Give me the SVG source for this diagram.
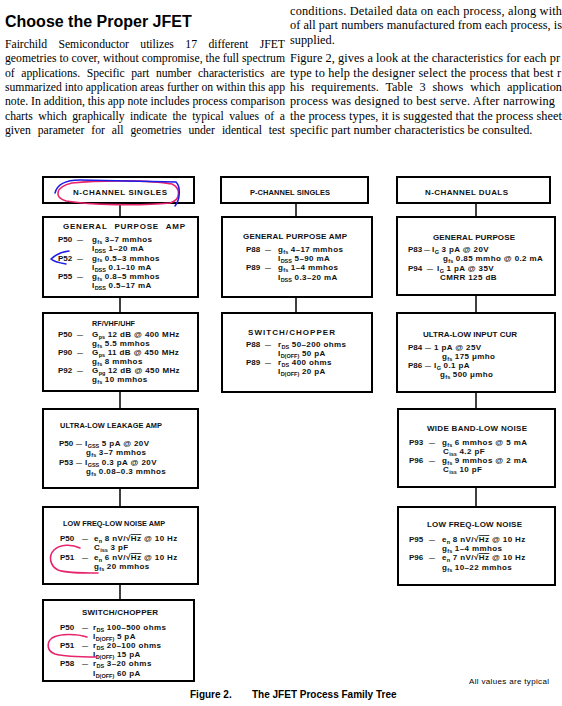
<svg xmlns="http://www.w3.org/2000/svg" width="562" height="706" viewBox="0 0 562 706">
<style>
.hd{font-family:"Liberation Sans",Arial,sans-serif;font-weight:bold;font-size:16px;fill:#000}
.bd{font-family:"Liberation Serif","Times New Roman",serif;font-size:11.7px;fill:#000}
.bd2{font-family:"Liberation Serif","Times New Roman",serif;font-size:12.3px;fill:#000}
.box{fill:#fff;stroke:#000;stroke-width:2}
.ttl{font-family:"Liberation Sans",Arial,sans-serif;font-weight:bold;font-size:8px;fill:#111}
.tx{font-family:"Liberation Sans",Arial,sans-serif;font-weight:bold;font-size:8px;letter-spacing:0.4px;fill:#111}
.lb{letter-spacing:0}
.dh{font-size:6px;letter-spacing:0}
.sb{font-size:5.5px;letter-spacing:0}
.ov{text-decoration:overline}
.conn line{stroke:#000;stroke-width:1.5}
.pink{fill:none;stroke:#e8246c;stroke-width:1.6;stroke-linecap:round;stroke-linejoin:round}
.blue{fill:none;stroke:#1c1ce6;stroke-width:1.5;stroke-linecap:round}
.cap{font-family:"Liberation Sans",Arial,sans-serif;font-weight:bold;font-size:10px;fill:#000}
.note{font-family:"Liberation Sans",Arial,sans-serif;font-size:8px;fill:#000}
</style>

<g id="page-text">
<text class="hd" x="5" y="27">Choose the Proper JFET</text>
<text class="bd" x="5" y="48" textLength="280" lengthAdjust="spacing" word-spacing="8.6">Fairchild Semiconductor utilizes 17 different JFET</text>
<text class="bd" x="5" y="62.3" textLength="280" lengthAdjust="spacing">geometries to cover, without compromise, the full spectrum</text>
<text class="bd" x="5" y="76.6" textLength="280" lengthAdjust="spacing" word-spacing="3.7">of applications. Specific part number characteristics are</text>
<text class="bd" x="5" y="90.9" textLength="280" lengthAdjust="spacing">summarized into application areas further on within this app</text>
<text class="bd" x="5" y="105.2" textLength="280" lengthAdjust="spacing">note. In addition, this app note includes process comparison</text>
<text class="bd" x="5" y="119.5" textLength="280" lengthAdjust="spacing" word-spacing="2.7">charts which graphically indicate the typical values of a</text>
<text class="bd" x="5" y="133.8" textLength="280" lengthAdjust="spacing" word-spacing="4.1">given parameter for all geometries under identical test</text>

<text class="bd2" x="290" y="15" textLength="272" lengthAdjust="spacing">conditions. Detailed data on each process, along with</text>
<text class="bd2" x="290" y="29.3" textLength="272" lengthAdjust="spacing">of all part numbers manufactured from each process, is</text>
<text class="bd2" x="290" y="43.6">supplied.</text>
<text class="bd2" x="290" y="62.3" textLength="270" lengthAdjust="spacing">Figure 2, gives a look at the characteristics for each pr</text>
<text class="bd2" x="290" y="76.6" textLength="271" lengthAdjust="spacing">type to help the designer select the process that best r</text>
<text class="bd2" x="290" y="90.9" textLength="272" lengthAdjust="spacing" word-spacing="3.7">his requirements. Table 3 shows which application</text>
<text class="bd2" x="290" y="105.2" textLength="265" lengthAdjust="spacing">process was designed to best serve. After narrowing</text>
<text class="bd2" x="290" y="119.5" textLength="272" lengthAdjust="spacing">the process types, it is suggested that the process sheet</text>
<text class="bd2" x="290" y="133.8">specific part number characteristics be consulted.</text>
</g>

<g id="connectors" class="conn">
<line x1="120" y1="203" x2="120" y2="217"/>
<line x1="120" y1="297" x2="120" y2="313"/>
<line x1="120" y1="391" x2="120" y2="409"/>
<line x1="120" y1="488" x2="120" y2="507"/>
<line x1="120" y1="584" x2="120" y2="600"/>
<line x1="296" y1="203" x2="296" y2="217"/>
<line x1="296" y1="297" x2="296" y2="313"/>
<line x1="476" y1="203" x2="476" y2="217"/>
<line x1="476" y1="295" x2="476" y2="313"/>
<line x1="476" y1="392" x2="476" y2="409"/>
<line x1="476" y1="487" x2="476" y2="507"/>
</g>

<g id="n-channel-singles">
<rect class="box" x="43" y="177" width="151" height="26"/>
<text class="ttl" x="73" y="194.5" textLength="94" lengthAdjust="spacing">N-CHANNEL SINGLES</text>
</g>

<g id="n-gp-amp">
<rect class="box" x="43" y="217" width="155" height="80"/>
<text class="ttl" x="63" y="228.5" textLength="122" lengthAdjust="spacing" word-spacing="4">GENERAL PURPOSE AMP</text>
<text class="tx" y="242"><tspan class="lb" x="58">P50</tspan><tspan class="dh" x="77">—</tspan><tspan x="92">g</tspan><tspan class="sb" dy="1.5">fs</tspan><tspan dy="-1.5"> 3–7 mmhos</tspan></text>
<text class="tx" x="92" y="251">I<tspan class="sb" dy="1.5">DSS</tspan><tspan dy="-1.5"> 1–20 mA</tspan></text>
<text class="tx" y="260.5"><tspan class="lb" x="58">P52</tspan><tspan class="dh" x="77">—</tspan><tspan x="92">g</tspan><tspan class="sb" dy="1.5">fs</tspan><tspan dy="-1.5"> 0.5–3 mmhos</tspan></text>
<text class="tx" x="92" y="270">I<tspan class="sb" dy="1.5">DSS</tspan><tspan dy="-1.5"> 0.1–10 mA</tspan></text>
<text class="tx" y="279"><tspan class="lb" x="58">P55</tspan><tspan class="dh" x="77">—</tspan><tspan x="92">g</tspan><tspan class="sb" dy="1.5">fs</tspan><tspan dy="-1.5"> 0.8–5 mmhos</tspan></text>
<text class="tx" x="92" y="288">I<tspan class="sb" dy="1.5">DSS</tspan><tspan dy="-1.5"> 0.5–17 mA</tspan></text>
</g>

<g id="n-rf">
<rect class="box" x="43" y="313" width="155" height="78"/>
<text class="ttl" x="92" y="325.5" style="font-size:7.2px" textLength="43" lengthAdjust="spacing">RF/VHF/UHF</text>
<text class="tx" y="337"><tspan class="lb" x="58">P50</tspan><tspan class="dh" x="77">—</tspan><tspan x="92">G</tspan><tspan class="sb" dy="1.5">ps</tspan><tspan dy="-1.5"> 12 dB @ 400 MHz</tspan></text>
<text class="tx" x="92" y="346">g<tspan class="sb" dy="1.5">fs</tspan><tspan dy="-1.5"> 5.5 mmhos</tspan></text>
<text class="tx" y="355"><tspan class="lb" x="58">P90</tspan><tspan class="dh" x="77">—</tspan><tspan x="92">G</tspan><tspan class="sb" dy="1.5">ps</tspan><tspan dy="-1.5"> 11 dB @ 450 MHz</tspan></text>
<text class="tx" x="92" y="364">g<tspan class="sb" dy="1.5">fs</tspan><tspan dy="-1.5"> 8 mmhos</tspan></text>
<text class="tx" y="373"><tspan class="lb" x="58">P92</tspan><tspan class="dh" x="77">—</tspan><tspan x="92">G</tspan><tspan class="sb" dy="1.5">pg</tspan><tspan dy="-1.5"> 12 dB @ 450 MHz</tspan></text>
<text class="tx" x="92" y="382">g<tspan class="sb" dy="1.5">fs</tspan><tspan dy="-1.5"> 10 mmhos</tspan></text>
</g>

<g id="n-leakage">
<rect class="box" x="43" y="409" width="155" height="79"/>
<text class="ttl" x="60" y="427.5" style="font-size:7.4px" textLength="102" lengthAdjust="spacing">ULTRA-LOW LEAKAGE AMP</text>
<text class="tx" y="446"><tspan class="lb" x="59">P50</tspan><tspan class="dh" x="76">—</tspan><tspan x="85">I</tspan><tspan class="sb" dy="1.5">GSS</tspan><tspan dy="-1.5"> 5 pA @ 20V</tspan></text>
<text class="tx" x="86" y="455">g<tspan class="sb" dy="1.5">fs</tspan><tspan dy="-1.5"> 3–7 mmhos</tspan></text>
<text class="tx" y="465"><tspan class="lb" x="59">P53</tspan><tspan class="dh" x="76">—</tspan><tspan x="85">I</tspan><tspan class="sb" dy="1.5">GSS</tspan><tspan dy="-1.5"> 0.3 pA @ 20V</tspan></text>
<text class="tx" x="86" y="474">g<tspan class="sb" dy="1.5">fs</tspan><tspan dy="-1.5"> 0.08–0.3 mmhos</tspan></text>
</g>

<g id="n-lf-noise">
<rect class="box" x="43" y="507" width="155" height="77"/>
<text class="ttl" x="63" y="525.5" style="font-size:7.3px" textLength="102" lengthAdjust="spacing">LOW FREQ-LOW NOISE AMP</text>
<text class="tx" y="541"><tspan class="lb" x="60">P50</tspan><tspan class="dh" x="82">—</tspan><tspan x="94">e</tspan><tspan class="sb" dy="1.5">n</tspan><tspan dy="-1.5"> 8 nV/√</tspan><tspan class="ov">Hz</tspan><tspan> @ 10 Hz</tspan></text>
<text class="tx" x="94" y="550">C<tspan class="sb" dy="1.5">iss</tspan><tspan dy="-1.5"> 3 pF</tspan></text>
<text class="tx" y="560"><tspan class="lb" x="60">P51</tspan><tspan class="dh" x="82">—</tspan><tspan x="94">e</tspan><tspan class="sb" dy="1.5">n</tspan><tspan dy="-1.5"> 6 nV/√</tspan><tspan class="ov">Hz</tspan><tspan> @ 10 Hz</tspan></text>
<text class="tx" x="94" y="569">g<tspan class="sb" dy="1.5">fs</tspan><tspan dy="-1.5"> 20 mmhos</tspan></text>
</g>

<g id="n-switch">
<rect class="box" x="43" y="600" width="151" height="81"/>
<text class="ttl" x="82" y="614.5" textLength="76" lengthAdjust="spacing">SWITCH/CHOPPER</text>
<text class="tx" y="630"><tspan class="lb" x="60">P50</tspan><tspan class="dh" x="82">—</tspan><tspan x="93">r</tspan><tspan class="sb" dy="1.5">DS</tspan><tspan dy="-1.5"> 100–500 ohms</tspan></text>
<text class="tx" x="93" y="639">I<tspan class="sb" dy="1.5">D(OFF)</tspan><tspan dy="-1.5"> 5 pA</tspan></text>
<text class="tx" y="648"><tspan class="lb" x="60">P51</tspan><tspan class="dh" x="82">—</tspan><tspan x="93">r</tspan><tspan class="sb" dy="1.5">DS</tspan><tspan dy="-1.5"> 20–100 ohms</tspan></text>
<text class="tx" x="93" y="657">I<tspan class="sb" dy="1.5">D(OFF)</tspan><tspan dy="-1.5"> 15 pA</tspan></text>
<text class="tx" y="666"><tspan class="lb" x="60">P58</tspan><tspan class="dh" x="82">—</tspan><tspan x="93">r</tspan><tspan class="sb" dy="1.5">DS</tspan><tspan dy="-1.5"> 3–20 ohms</tspan></text>
<text class="tx" x="93" y="676">I<tspan class="sb" dy="1.5">D(OFF)</tspan><tspan dy="-1.5"> 60 pA</tspan></text>
</g>

<g id="p-channel-singles">
<rect class="box" x="221" y="177" width="147" height="26"/>
<text class="ttl" x="250" y="194.5" style="font-size:7.5px" textLength="80" lengthAdjust="spacing">P-CHANNEL SINGLES</text>
</g>

<g id="p-gp-amp">
<rect class="box" x="222" y="217" width="150" height="80"/>
<text class="ttl" x="243" y="238.5" textLength="104" lengthAdjust="spacing">GENERAL PURPOSE AMP</text>
<text class="tx" y="252"><tspan class="lb" x="246">P88</tspan><tspan class="dh" x="265">—</tspan><tspan x="278">g</tspan><tspan class="sb" dy="1.5">fs</tspan><tspan dy="-1.5"> 4–17 mmhos</tspan></text>
<text class="tx" x="278" y="261">I<tspan class="sb" dy="1.5">DSS</tspan><tspan dy="-1.5"> 5–90 mA</tspan></text>
<text class="tx" y="270"><tspan class="lb" x="246">P89</tspan><tspan class="dh" x="265">—</tspan><tspan x="278">g</tspan><tspan class="sb" dy="1.5">fs</tspan><tspan dy="-1.5"> 1–4 mmhos</tspan></text>
<text class="tx" x="278" y="280">I<tspan class="sb" dy="1.5">DSS</tspan><tspan dy="-1.5"> 0.3–20 mA</tspan></text>
</g>

<g id="p-switch">
<rect class="box" x="222" y="313" width="150" height="79"/>
<text class="ttl" x="248" y="334.5" textLength="87" lengthAdjust="spacing">SWITCH/CHOPPER</text>
<text class="tx" y="347"><tspan class="lb" x="246">P88</tspan><tspan class="dh" x="265">—</tspan><tspan x="278">r</tspan><tspan class="sb" dy="1.5">DS</tspan><tspan dy="-1.5"> 50–200 ohms</tspan></text>
<text class="tx" x="278" y="356">I<tspan class="sb" dy="1.5">D(OFF)</tspan><tspan dy="-1.5"> 50 pA</tspan></text>
<text class="tx" y="365"><tspan class="lb" x="246">P89</tspan><tspan class="dh" x="265">—</tspan><tspan x="278">r</tspan><tspan class="sb" dy="1.5">DS</tspan><tspan dy="-1.5"> 400 ohms</tspan></text>
<text class="tx" x="278" y="374">I<tspan class="sb" dy="1.5">D(OFF)</tspan><tspan dy="-1.5"> 20 pA</tspan></text>
</g>

<g id="n-channel-duals">
<rect class="box" x="397" y="177" width="153" height="26"/>
<text class="ttl" x="425" y="194.5" textLength="83" lengthAdjust="spacing">N-CHANNEL DUALS</text>
</g>

<g id="d-gp">
<rect class="box" x="397" y="217" width="158" height="78"/>
<text class="ttl" x="433" y="239.5" textLength="82" lengthAdjust="spacing">GENERAL PURPOSE</text>
<text class="tx" y="252"><tspan class="lb" x="408">P83</tspan><tspan class="dh" x="424">—</tspan><tspan x="432">I</tspan><tspan class="sb" dy="1.5">G</tspan><tspan dy="-1.5"> 3 pA @ 20V</tspan></text>
<text class="tx" x="443" y="261">g<tspan class="sb" dy="1.5">fs</tspan><tspan dy="-1.5"> 0.85 mmho @ 0.2 mA</tspan></text>
<text class="tx" y="271"><tspan class="lb" x="408">P94</tspan><tspan class="dh" x="427">—</tspan><tspan x="437">I</tspan><tspan class="sb" dy="1.5">G</tspan><tspan dy="-1.5"> 1 pA @ 35V</tspan></text>
<text class="tx" x="440" y="280">CMRR 125 dB</text>
</g>

<g id="d-ultra-low">
<rect class="box" x="397" y="313" width="158" height="79"/>
<text class="ttl" x="423" y="336.5" textLength="94" lengthAdjust="spacing">ULTRA-LOW INPUT CUR</text>
<text class="tx" y="350"><tspan class="lb" x="408">P84</tspan><tspan class="dh" x="425">—</tspan><tspan x="434">1 pA @ 25V</tspan></text>
<text class="tx" x="442" y="359">g<tspan class="sb" dy="1.5">fs</tspan><tspan dy="-1.5"> 175 μmho</tspan></text>
<text class="tx" y="368"><tspan class="lb" x="408">P86</tspan><tspan class="dh" x="425">—</tspan><tspan x="434">I</tspan><tspan class="sb" dy="1.5">G</tspan><tspan dy="-1.5"> 0.1 pA</tspan></text>
<text class="tx" x="440" y="377">g<tspan class="sb" dy="1.5">fs</tspan><tspan dy="-1.5"> 500 μmho</tspan></text>
</g>

<g id="d-wideband">
<rect class="box" x="398" y="409" width="157" height="78"/>
<text class="ttl" x="427" y="430.5" textLength="100" lengthAdjust="spacing">WIDE BAND-LOW NOISE</text>
<text class="tx" y="445"><tspan class="lb" x="409">P93</tspan><tspan class="dh" x="429">—</tspan><tspan x="442">g</tspan><tspan class="sb" dy="1.5">fs</tspan><tspan dy="-1.5"> 6 mmhos @ 5 mA</tspan></text>
<text class="tx" x="443" y="454">C<tspan class="sb" dy="1.5">iss</tspan><tspan dy="-1.5"> 4.2 pF</tspan></text>
<text class="tx" y="463"><tspan class="lb" x="409">P96</tspan><tspan class="dh" x="429">—</tspan><tspan x="442">g</tspan><tspan class="sb" dy="1.5">fs</tspan><tspan dy="-1.5"> 9 mmhos @ 2 mA</tspan></text>
<text class="tx" x="443" y="472">C<tspan class="sb" dy="1.5">iss</tspan><tspan dy="-1.5"> 10 pF</tspan></text>
</g>

<g id="d-lf-noise">
<rect class="box" x="398" y="507" width="157" height="78"/>
<text class="ttl" x="427" y="526.5" textLength="95" lengthAdjust="spacing">LOW FREQ-LOW NOISE</text>
<text class="tx" y="542"><tspan class="lb" x="409">P95</tspan><tspan class="dh" x="429">—</tspan><tspan x="442">e</tspan><tspan class="sb" dy="1.5">n</tspan><tspan dy="-1.5"> 8 nV/√</tspan><tspan class="ov">Hz</tspan><tspan> @ 10 Hz</tspan></text>
<text class="tx" x="442" y="551">g<tspan class="sb" dy="1.5">fs</tspan><tspan dy="-1.5"> 1–4 mmhos</tspan></text>
<text class="tx" y="560"><tspan class="lb" x="409">P96</tspan><tspan class="dh" x="429">—</tspan><tspan x="442">e</tspan><tspan class="sb" dy="1.5">n</tspan><tspan dy="-1.5"> 7 nV/√</tspan><tspan class="ov">Hz</tspan><tspan> @ 10 Hz</tspan></text>
<text class="tx" x="442" y="570">g<tspan class="sb" dy="1.5">fs</tspan><tspan dy="-1.5"> 10–22 mmhos</tspan></text>
</g>

<g id="annotations">
<path class="pink" d="M72,183 C100,180 150,180 172,184 C181,188 181,200 170,203 C140,206 90,205 66,201 C54,197 55,187 72,183 Z"/>
<path class="blue" d="M55,193 C57,185 64,180 80,180 L176,182 C181,187 180,200 175,206"/>
<path class="blue" d="M69,251 C62,252 55,255 51,259 C54,262 60,263 66,264"/>
<path class="pink" d="M80,548 C72,544 60,544 54,550 C48,556 50,566 58,570 C66,573 80,573 98,573"/>
<path class="pink" d="M87,637 C78,634 60,633 52,638 C46,643 47,651 55,654 C65,657 80,657 97,657"/>
</g>

<g id="footer">
<text class="note" x="469" y="684" textLength="80" lengthAdjust="spacing">All values are typical</text>
<text class="cap" x="190" y="698">Figure 2.</text>
<text class="cap" x="252" y="698">The JFET Process Family Tree</text>
</g>
</svg>
